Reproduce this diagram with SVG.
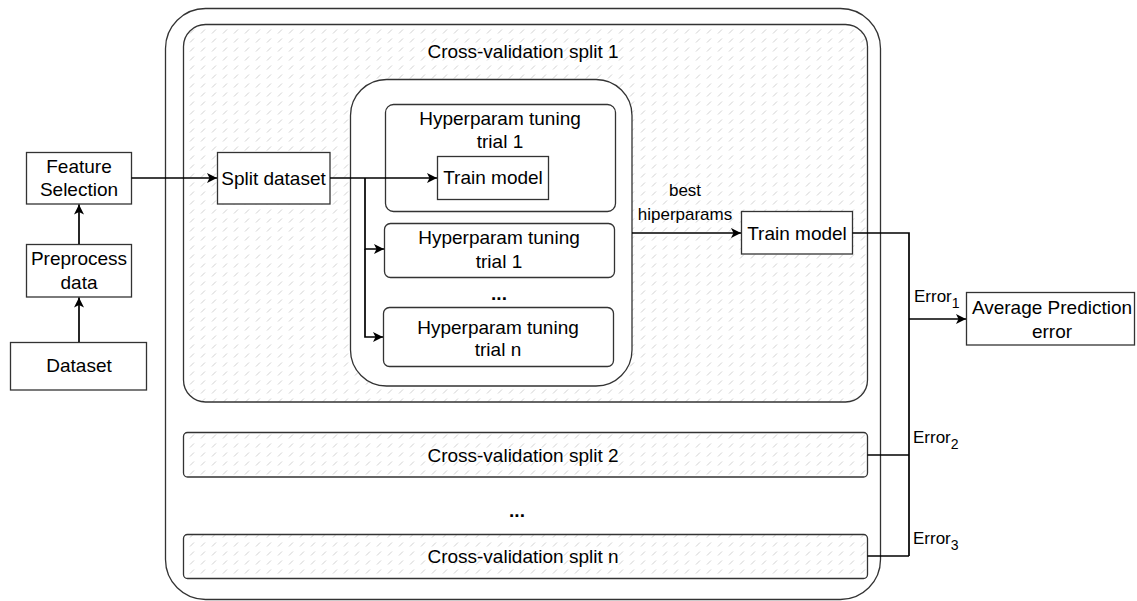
<svg xmlns="http://www.w3.org/2000/svg" width="1137" height="601" viewBox="0 0 1137 601">
  <style>
    .box { fill: #ffffff; stroke: #333333; stroke-width: 1.3; }
    .hatched { fill: url(#hatch); stroke: #333333; stroke-width: 1.3; }
    .lbl { font-family: "Liberation Sans", Arial, sans-serif; font-size: 19px; fill: #000000; text-anchor: middle; }
    .small { font-family: "Liberation Sans", Arial, sans-serif; font-size: 17px; fill: #000000; }
    .dots { font-family: "Liberation Sans", Arial, sans-serif; font-size: 19px; font-weight: bold; fill: #000000; text-anchor: middle; }
    .edge { fill: none; stroke: #000000; stroke-width: 1.7; }
  </style>
  <defs>
    <pattern id="hatch" patternUnits="userSpaceOnUse" width="11" height="9">
      <rect width="11" height="9" fill="#ffffff"/>
      <path d="M3,6.5 L7,2.5" stroke="#d2d2d2" stroke-width="1"/>
    </pattern>
    <marker id="arrow" markerUnits="userSpaceOnUse" markerWidth="12" markerHeight="11" refX="10" refY="5.5" orient="auto">
      <path d="M0,0.5 L10,5.5 L0,10.5 L2.5,5.5 z" fill="#000000"/>
    </marker>
  </defs>

  <!-- outer cross-validation frame -->
  <g id="cv-frame">
    <rect class="box" x="165.5" y="8.5" width="715" height="591" rx="40" ry="40"/>
  </g>

  <!-- split 1 with its tuning block -->
  <g id="cv-split-1">
    <rect class="hatched" x="183.5" y="24.5" width="684" height="377.5" rx="22" ry="22"/>
    <text class="lbl" x="523" y="58">Cross-validation split 1</text>
  </g>

  <g id="tuning-block">
    <rect class="box" x="350.5" y="79.5" width="281.5" height="306.5" rx="36" ry="36"/>
  </g>

  <g id="trial-1-top">
    <rect class="box" x="385.5" y="104.5" width="230" height="107" rx="8" ry="8"/>
    <text class="lbl" x="500" y="124.5">Hyperparam tuning</text>
    <text class="lbl" x="500" y="147.5">trial 1</text>
  </g>

  <g id="train-model-inner">
    <rect class="box" x="437.5" y="156.5" width="111" height="43"/>
    <text class="lbl" x="493" y="183.5">Train model</text>
  </g>

  <g id="trial-1-second">
    <rect class="box" x="384.5" y="223.5" width="230" height="54" rx="6" ry="6"/>
    <text class="lbl" x="499" y="243.5">Hyperparam tuning</text>
    <text class="lbl" x="499" y="267.5">trial 1</text>
  </g>

  <g id="trial-ellipsis">
    <text class="dots" x="499" y="300">...</text>
  </g>

  <g id="trial-n">
    <rect class="box" x="383.5" y="307.5" width="230" height="59" rx="6" ry="6"/>
    <text class="lbl" x="498" y="333.5">Hyperparam tuning</text>
    <text class="lbl" x="498" y="356">trial n</text>
  </g>

  <g id="split-dataset">
    <rect class="box" x="217.5" y="152.5" width="112.5" height="51.5"/>
    <text class="lbl" x="273.5" y="184.5">Split dataset</text>
  </g>

  <g id="train-model-final">
    <rect class="box" x="741.5" y="211.5" width="111" height="42.5"/>
    <text class="lbl" x="797" y="239.5">Train model</text>
  </g>

  <g id="best-label">
    <text class="small" x="685" y="196" text-anchor="middle">best</text>
    <text class="small" x="685" y="220" text-anchor="middle">hiperparams</text>
  </g>

  <!-- other splits -->
  <g id="cv-split-2">
    <rect class="hatched" x="183.5" y="432.5" width="684" height="44.5" rx="4" ry="4"/>
    <text class="lbl" x="523" y="461.5">Cross-validation split 2</text>
  </g>

  <g id="split-ellipsis">
    <text class="dots" x="517" y="517">...</text>
  </g>

  <g id="cv-split-n">
    <rect class="hatched" x="183.5" y="534.5" width="684" height="44" rx="4" ry="4"/>
    <text class="lbl" x="523" y="562.5">Cross-validation split n</text>
  </g>

  <!-- data preparation chain -->
  <g id="dataset">
    <rect class="box" x="10.5" y="342.5" width="136" height="47.5"/>
    <text class="lbl" x="79" y="371.5">Dataset</text>
  </g>

  <g id="preprocess">
    <rect class="box" x="26.5" y="244.5" width="105" height="52.5"/>
    <text class="lbl" x="79" y="264.5">Preprocess</text>
    <text class="lbl" x="79" y="288.5">data</text>
  </g>

  <g id="feature-selection">
    <rect class="box" x="26.5" y="152.5" width="105" height="51.5"/>
    <text class="lbl" x="79" y="172.5">Feature</text>
    <text class="lbl" x="79" y="195.5">Selection</text>
  </g>

  <g id="average-error">
    <rect class="box" x="966.5" y="292.5" width="168" height="52.5"/>
    <text class="lbl" x="1052" y="313.5">Average Prediction</text>
    <text class="lbl" x="1052" y="337.5">error</text>
  </g>

  <!-- connectors -->
  <g id="connectors">
    <path class="edge" d="M79,342 L79,297.5" marker-end="url(#arrow)"/>
    <path class="edge" d="M79,244 L79,204.5" marker-end="url(#arrow)"/>
    <path class="edge" d="M131.5,178 L217,178" marker-end="url(#arrow)"/>
    <path class="edge" d="M330,178 L437,178" marker-end="url(#arrow)"/>
    <path class="edge" d="M365,178 L365,249 L384,249" marker-end="url(#arrow)"/>
    <path class="edge" d="M365,249 L365,337 L383,337" marker-end="url(#arrow)"/>
    <path class="edge" d="M632,233 L741,233" marker-end="url(#arrow)"/>
    <path class="edge" d="M852.5,233 L909,233 L909,556"/>
    <path class="edge" d="M909,319 L966,319" marker-end="url(#arrow)"/>
    <path class="edge" d="M867.5,455 L909,455"/>
    <path class="edge" d="M867.5,556 L909,556"/>
  </g>

  <!-- error labels -->
  <g id="error-labels">
    <text class="small" x="914" y="302">Error<tspan font-size="14" dy="6">1</tspan></text>
    <text class="small" x="913" y="443">Error<tspan font-size="14" dy="6">2</tspan></text>
    <text class="small" x="913" y="544">Error<tspan font-size="14" dy="6">3</tspan></text>
  </g>
</svg>
